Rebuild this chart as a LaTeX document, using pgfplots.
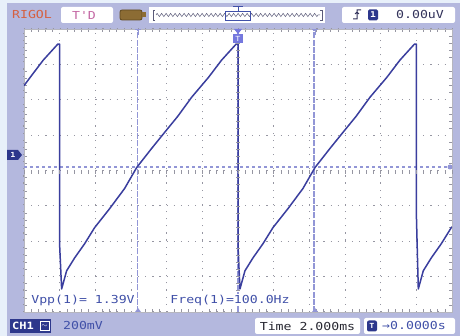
\documentclass[border=0pt]{standalone}
\usepackage{pgfplots}
\pgfplotsset{compat=1.18}
\usepackage{fontspec}
\newfontfamily\rigolfont[FakeStretch=1.2]{DejaVu Sans Mono}
\usetikzlibrary{decorations.pathmorphing}
\definecolor{bezel}{RGB}{180,184,222}
\definecolor{outer}{RGB}{232,240,250}
\definecolor{trace}{RGB}{58,62,158}
\definecolor{lav}{RGB}{146,150,214}
\definecolor{griddot}{RGB}{150,150,162}
\definecolor{txtblue}{RGB}{64,80,168}
\definecolor{dkblue}{RGB}{45,55,140}
\definecolor{rigolred}{RGB}{214,96,64}
\definecolor{tdpink}{RGB}{196,104,164}
\definecolor{battdark}{RGB}{95,72,30}
\definecolor{battfill}{RGB}{140,108,52}
\definecolor{zig}{RGB}{90,90,120}
\definecolor{navy}{RGB}{50,50,90}
\definecolor{nearblack}{RGB}{40,40,50}
\begin{document}
\begin{tikzpicture}[x=1pt,y=1pt,font=\rigolfont\fontsize{11}{12}\selectfont]
\useasboundingbox (0,0) rectangle (460,336);
\fill[outer] (0,0) rectangle (460,336);
\fill[bezel] (7,0) rectangle (460,333);
\begin{axis}[at={(24pt,24pt)}, anchor=south west, scale only axis,
  width=428pt, height=283pt,
  xmin=-12, xmax=12, ymin=-0.8, ymax=0.8,
  xtick={-12,-10,...,12}, ytick={-0.8,-0.6,...,0.8},
  xticklabels={}, yticklabels={},
  xtick pos=both, ytick pos=both, tick align=inside,
  major tick length=0pt, minor tick length=3pt,
  minor x tick num=4, minor y tick num=4,
  minor tick style={griddot, line width=0.6pt},
  grid=major,
  major grid style={griddot, line width=1pt, dash pattern=on 1.2pt off 5.93pt},
  axis line style={griddot!70, line width=0.8pt},
  axis background/.style={fill=white},
  clip=true]
\addplot[lav, line width=1.3pt, dashed, forget plot] coordinates {(-12,0.02) (12,0.02)};
\addplot[lav, line width=1.3pt, dash pattern=on 6pt off 1.2pt, forget plot] coordinates {(-5.62,-0.8) (-5.62,0.8)};
\addplot[lav, line width=1.3pt, dash pattern=on 6pt off 1.2pt, forget plot] coordinates {(4.26,-0.8) (4.26,0.8)};
\addplot[lav, line width=1.6pt, dash pattern=on 6pt off 1pt, forget plot] coordinates {(0,-0.8) (0,0.8)};
\addplot[trace, line width=1.5pt, line join=round] coordinates {
(-12.00,0.480) (-11.65,0.527) (-10.92,0.624) (-10.10,0.715) (-10.00,0.715)
(-10.00,-0.426) (-9.89,-0.670) (-9.61,-0.567) (-9.16,-0.494) (-8.60,-0.414)
(-8.04,-0.323) (-7.20,-0.216) (-6.36,-0.102) (-5.68,0.017) (-4.84,0.125)
(-4.11,0.216) (-3.38,0.306) (-2.60,0.414) (-1.65,0.527) (-0.92,0.624)
(-0.10,0.715) (0.00,0.715)
(0.00,-0.426) (0.11,-0.670) (0.39,-0.567) (0.84,-0.494) (1.40,-0.414)
(1.96,-0.323) (2.80,-0.216) (3.64,-0.102) (4.32,0.017) (5.16,0.125)
(5.89,0.216) (6.62,0.306) (7.40,0.414) (8.35,0.527) (9.08,0.624)
(9.90,0.715) (10.00,0.715)
(10.00,-0.240) (10.11,-0.670) (10.39,-0.567) (10.84,-0.494) (11.40,-0.414)
(11.96,-0.323) (12.00,-0.318)
};
\end{axis}
% centre cross ticks
\foreach \i in {0,...,60} {\draw[griddot, line width=0.6pt] ({24+\i*7.1333},165.5) -- ++(0,-3.5);}
\foreach \i in {0,...,40} {\draw[griddot, line width=0.6pt] (236,{24+\i*7.075}) -- (240,{24+\i*7.075});}
% cursor markers
\foreach \xx in {138,315} {
  \draw[lav, line width=1pt] (\xx-3,306) -- (\xx+3,306) (\xx,306) -- (\xx,301);
  \fill[lav] (\xx-3,24) -- (\xx+3,24) -- (\xx,28) -- cycle;
}
% trigger position marker
\fill[lav!80!blue] (233,293) rectangle (243,302);
\fill[lav!80!blue] (234,307) -- (242,307) -- (238,302) -- cycle;
\node[white, font=\rigolfont\fontsize{7}{7}\selectfont] at (238,297.5) {T};
% level marker right
\fill[lav] (450,169) circle (2.5);
% ground marker
\fill[dkblue] (7,176) -- (18,176) -- (22,181) -- (18,186) -- (7,186) -- cycle;
\node[white, font=\rigolfont\fontsize{7}{7}\selectfont\bfseries] at (13,181) {1};
% measurements
\node[txtblue, fill=white, inner sep=1pt] at (83,36) {Vpp(1)= 1.39V};
\node[txtblue, fill=white, inner sep=1pt] at (230,36) {Freq(1)=100.0Hz};
% top bar
\node[rigolred] at (32,321) {RIGOL};
\fill[white, rounded corners=2pt] (61,313) rectangle (113,329);
\node[tdpink] at (84,321) {T'D};
\draw[battdark, fill=battfill, rounded corners=2pt, line width=0.8pt] (120,316) rectangle (142,326);
\fill[battfill] (142,318.5) rectangle (146,323.5);
\fill[white] (149,313) rectangle (325,329);
\draw[zig, line width=0.5pt, decorate, decoration={zigzag, amplitude=1.6pt, segment length=4.5pt}] (156,321) -- (320,321);
\draw[zig, line width=0.6pt] (155,316) -- (153,316) -- (153,326) -- (155,326);
\draw[zig, line width=0.6pt] (320,316) -- (322,316) -- (322,326) -- (320,326);
\draw[txtblue, line width=0.8pt] (225,316) rectangle (250,325);
\draw[txtblue, line width=1pt] (233,329) -- (243,329) (238,329) -- (238,325);
\fill[white, rounded corners=2pt] (342,313) rectangle (455,329);
\draw[navy, line width=1pt] (353,317) -- (357,317) -- (357,326) -- (361,326) (355,322) -- (357,324) -- (359,322);
\fill[dkblue, rounded corners=1.5pt] (368,315.5) rectangle (378,326.5);
\node[white, font=\rigolfont\fontsize{8}{8}\selectfont\bfseries] at (373,321) {1};
\node[navy] at (420,321) {0.00uV};
% bottom bar
\fill[dkblue] (10,3) rectangle (51,17);
\node[white, font=\rigolfont\fontsize{10}{10}\selectfont\bfseries] at (23,10) {CH1};
\draw[white, line width=0.6pt] (40,5.5) rectangle (49,14.5);
\node[white, font=\fontsize{7}{7}\selectfont] at (44.5,10) {$\sim$};
\node[txtblue] at (83,10) {200mV};
\fill[white, rounded corners=2pt] (255,2) rectangle (360,18);
\node[nearblack] at (307.5,10) {Time 2.000ms};
\fill[white, rounded corners=2pt] (364,2) rectangle (455,18);
\fill[dkblue, rounded corners=2pt] (367,4.5) rectangle (377,15.5);
\node[white, font=\rigolfont\fontsize{7}{7}\selectfont\bfseries] at (372,10) {T};
\node[txtblue] at (414,10) {→0.0000s};
\end{tikzpicture}
\end{document}
